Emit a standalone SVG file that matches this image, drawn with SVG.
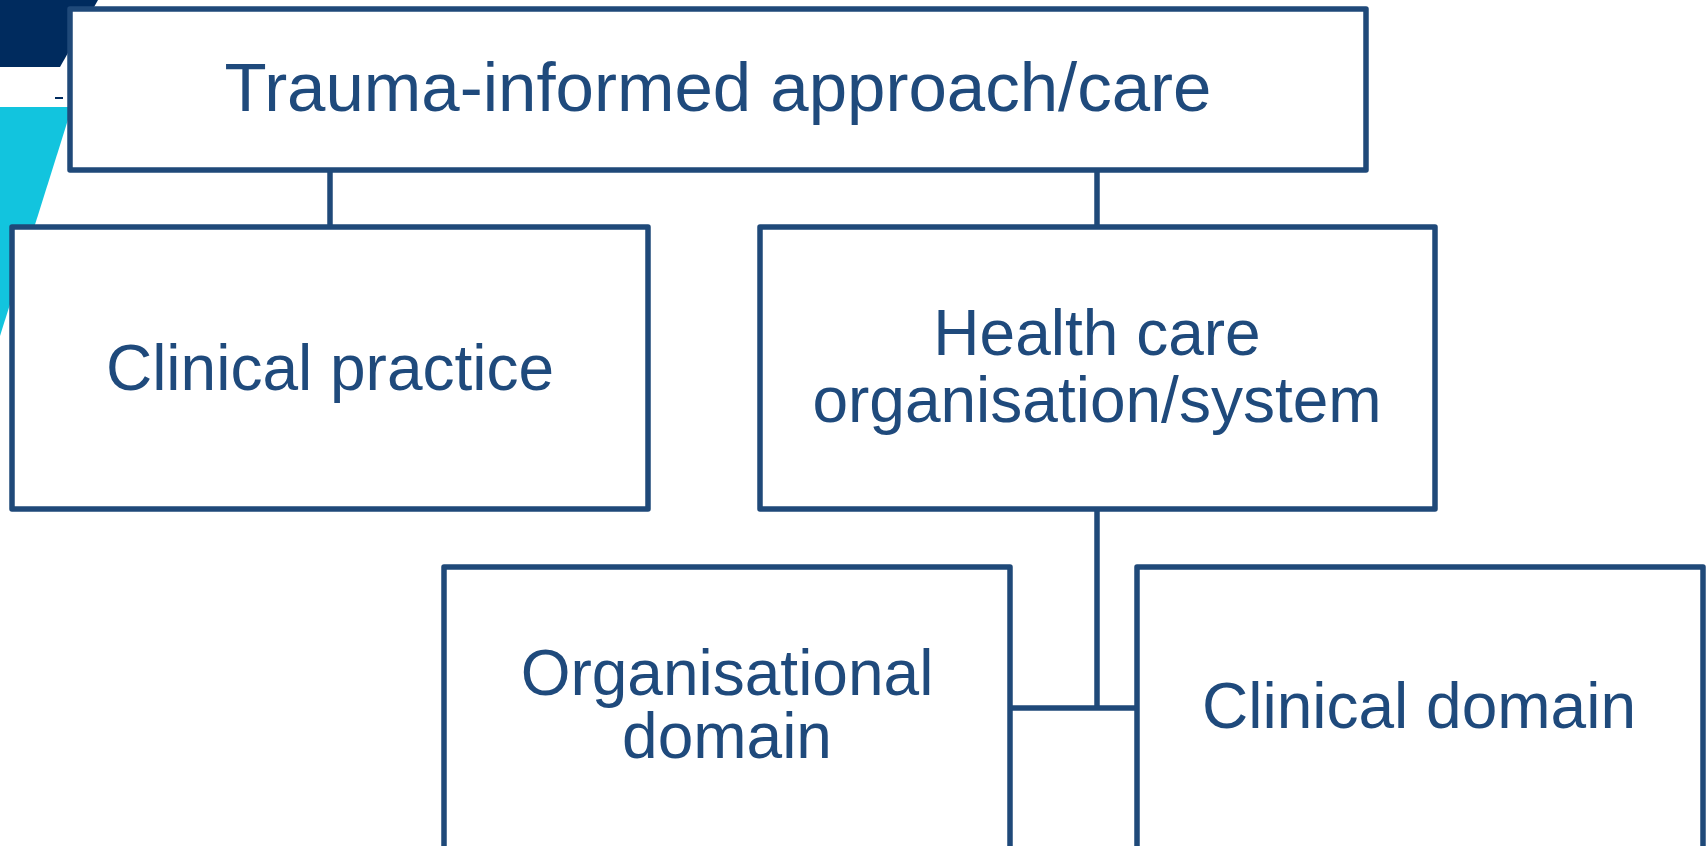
<svg xmlns="http://www.w3.org/2000/svg" width="1706" height="846" viewBox="0 0 1706 846">
  <style>
    .box { fill: #ffffff; stroke: #1F4979; stroke-width: 5.5; stroke-linejoin: round; }
    .link { fill: none; stroke: #1F4979; stroke-width: 5.5; }
    .label { font-family: "Liberation Sans", Arial, sans-serif; fill: #1F4A7C; text-anchor: middle; }
    .big { font-size: 69px; }
    .mid { font-size: 64px; }
  </style>
  <rect x="0" y="0" width="1706" height="846" fill="#ffffff"/>

  <!-- corner decoration -->
  <g id="corner">
    <polygon points="0,0 98,0 60,67 0,67" fill="#002B5E"/>
    <polygon points="0,107 72,107 0,336" fill="#12C4DE"/>
    <rect x="55" y="97" width="8" height="2" fill="#002B5E"/>
  </g>

  <!-- connectors -->
  <g id="connectors">
    <line class="link" x1="330" y1="170" x2="330" y2="227"/>
    <line class="link" x1="1097" y1="170" x2="1097" y2="227"/>
    <line class="link" x1="1097" y1="509" x2="1097" y2="708"/>
    <line class="link" x1="1010" y1="708" x2="1137" y2="708"/>
  </g>

  <g id="node-trauma">
    <rect class="box" x="70" y="9" width="1296" height="161"/>
    <text class="label big" x="718" y="111">Trauma-informed approach/care</text>
  </g>

  <g id="node-clinical-practice">
    <rect class="box" x="12" y="227" width="636" height="282"/>
    <text class="label mid" x="330" y="390">Clinical practice</text>
  </g>

  <g id="node-health-care">
    <rect class="box" x="760" y="227" width="675" height="282"/>
    <text class="label mid" x="1097" y="355">Health care</text>
    <text class="label mid" x="1097" y="422">organisation/system</text>
  </g>

  <g id="node-organisational">
    <rect class="box" x="444" y="567" width="566" height="340"/>
    <text class="label mid" x="727" y="695">Organisational</text>
    <text class="label mid" x="727" y="758">domain</text>
  </g>

  <g id="node-clinical-domain">
    <rect class="box" x="1137" y="567" width="566" height="340"/>
    <text class="label mid" x="1419" y="728">Clinical domain</text>
  </g>
</svg>
